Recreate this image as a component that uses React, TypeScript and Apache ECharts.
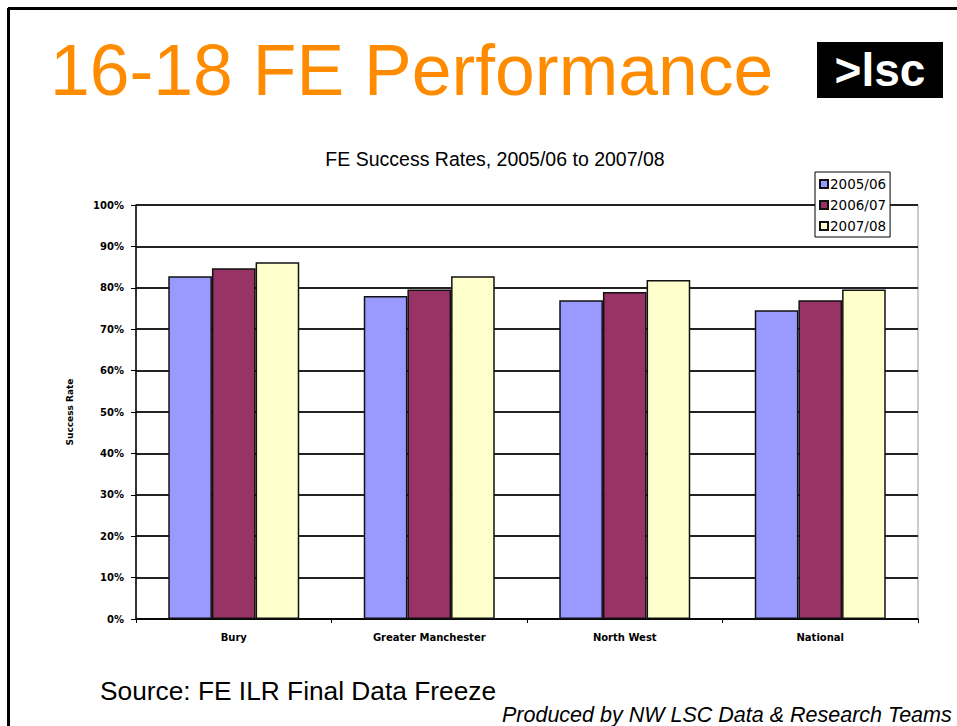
import React, { useEffect, useRef } from "react";
import * as echarts from "echarts";

const categories = ["Bury", "Greater Manchester", "North West", "National"];
const seriesNames = ["2005/06", "2006/07", "2007/08"];
const values2005 = [82.8, 78.0, 77.0, 74.6];
const values2006 = [84.7, 79.6, 79.0, 77.0];
const values2007 = [86.2, 82.8, 81.9, 79.6];
const seriesColors = ["#9999FF", "#993366", "#FFFFCC"];

export default function App() {
  const ref = useRef<HTMLDivElement>(null);
  useEffect(() => {
    if (!ref.current) return;
    const chart = echarts.init(ref.current, null, { renderer: "svg" });
    const data = [values2005, values2006, values2007];
    const tiny = { fontFamily: "DejaVu Sans", fontWeight: "bold", color: "#000" };
    chart.setOption({
      animation: false,
      backgroundColor: "#ffffff",
      title: {
        text: "FE Success Rates, 2005/06 to 2007/08",
        left: 490,
        textAlign: "center",
        top: 144,
        textStyle: { fontFamily: "Liberation Sans, Arial", fontSize: 19.5, fontWeight: "normal", color: "#000" },
      },
      legend: {
        orient: "vertical",
        left: 815,
        top: 172,
        data: seriesNames,
        icon: "rect",
        itemWidth: 8,
        itemHeight: 8,
        itemGap: 7,
        padding: [5, 4, 4, 4],
        borderColor: "#000",
        borderWidth: 1,
        backgroundColor: "#fff",
        textStyle: { fontFamily: "DejaVu Sans", fontSize: 13.5, color: "#000", padding: [0, 0, 0, -3] },
      },
      grid: {
        left: 136,
        right: 39,
        top: 205,
        bottom: 107,
        show: true,
        borderColor: "#999",
        borderWidth: 1,
      },
      xAxis: {
        type: "category",
        data: categories,
        axisLine: { lineStyle: { color: "#000", width: 1.5 } },
        axisTick: { show: true, length: 4, lineStyle: { color: "#000" } },
        axisLabel: { ...tiny, fontSize: 10, margin: 13 },
      },
      yAxis: {
        type: "value",
        min: 0,
        max: 100,
        interval: 10,
        name: "Success Rate",
        nameLocation: "middle",
        nameRotate: 90,
        nameGap: 62,
        nameTextStyle: { ...tiny, fontSize: 9 },
        axisLine: { show: true, lineStyle: { color: "#000", width: 1.5 } },
        axisTick: { show: true, length: 5, lineStyle: { color: "#000" } },
        axisLabel: { ...tiny, formatter: "{value}%", fontSize: 10, margin: 12 },
        splitLine: { show: true, lineStyle: { color: "#222", width: 1.8 } },
      },
      series: seriesNames.map((name, i) => ({
        name,
        type: "bar",
        data: data[i],
        barGap: "0%",
        barCategoryGap: "33%",
        itemStyle: { color: seriesColors[i], borderColor: "#111", borderWidth: 1.5 },
      })),
      graphic: [
        { type: "line", shape: { x1: 8, y1: 8.5, x2: 957, y2: 8.5 }, style: { stroke: "#000", lineWidth: 3 } },
        { type: "line", shape: { x1: 8.5, y1: 8, x2: 8.5, y2: 726 }, style: { stroke: "#000", lineWidth: 3 } },
        {
          type: "text",
          left: 50,
          top: 34,
          style: { text: "16-18 FE Performance", fontFamily: "Liberation Sans, Arial", fontSize: 71.5, fill: "#FF8C00" },
        },
        { type: "rect", shape: { x: 817, y: 42, width: 126, height: 56 }, style: { fill: "#000" } },
        {
          type: "text",
          x: 880,
          y: 70,
          style: {
            text: ">lsc",
            fontFamily: "Liberation Sans, Arial",
            fontWeight: "bold",
            fontSize: 46,
            fill: "#fff",
            align: "center",
            verticalAlign: "middle",
          },
        },
        {
          type: "text",
          left: 100,
          top: 678,
          style: { text: "Source: FE ILR Final Data Freeze", fontFamily: "Liberation Sans, Arial", fontSize: 26.3, fill: "#000" },
        },
        {
          type: "text",
          left: 502,
          top: 704,
          style: {
            text: "Produced by NW LSC Data & Research Teams",
            fontFamily: "Liberation Sans, Arial",
            fontStyle: "italic",
            fontSize: 21.5,
            fill: "#000",
          },
        },
      ],
    });
    return () => chart.dispose();
  }, []);
  return <div ref={ref} style={{ position: "fixed", left: 0, top: 0, width: 957, height: 726 }} />;
}
